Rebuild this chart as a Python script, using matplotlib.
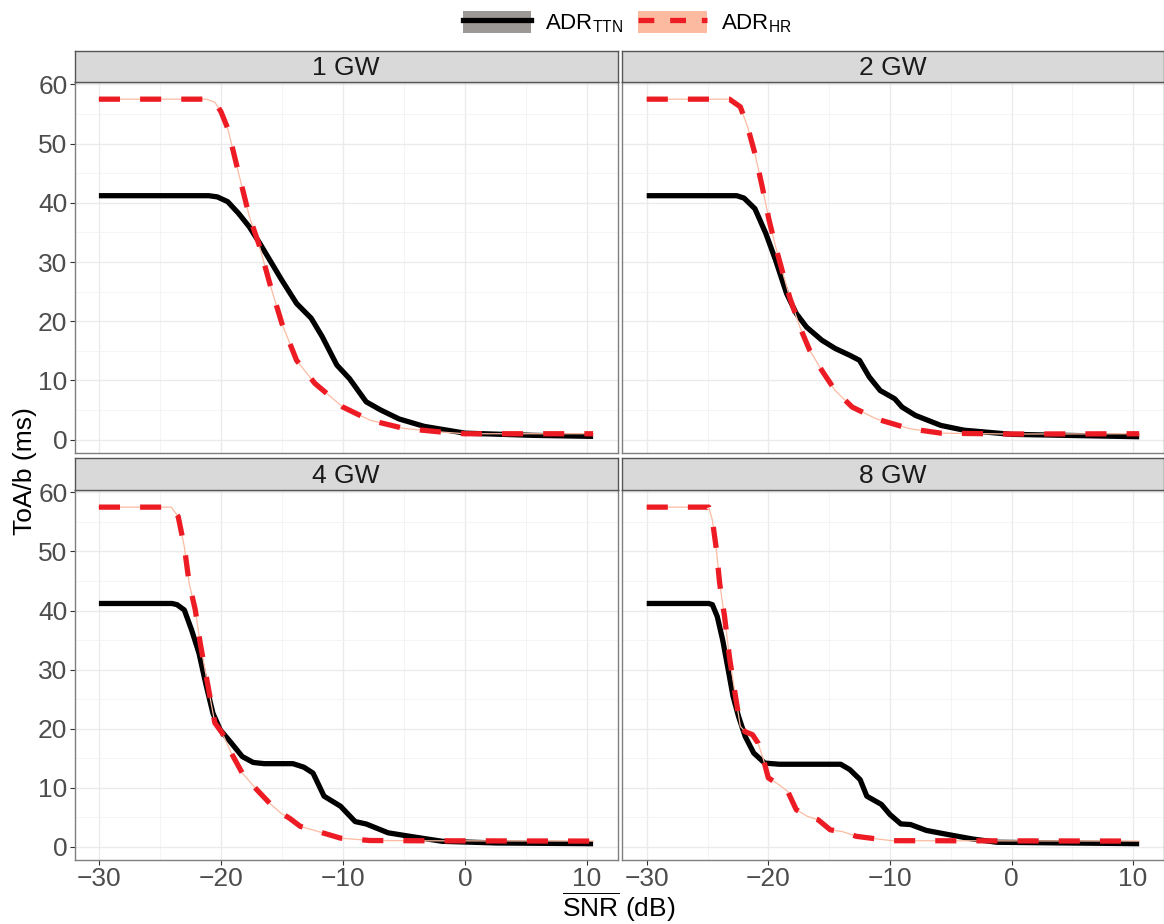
import numpy as np
import matplotlib
matplotlib.use('Agg')
import matplotlib.pyplot as plt
from matplotlib.lines import Line2D
from matplotlib.patches import Patch

plt.rcParams['font.family'] = ['Liberation Sans', 'DejaVu Sans']
plt.rcParams['mathtext.fontset'] = 'custom'
plt.rcParams['mathtext.rm'] = 'Liberation Sans'
plt.rcParams['mathtext.it'] = 'Liberation Sans:italic'

# values (SNR in dB, ToA/b in ms)
panels = ['1 GW', '2 GW', '4 GW', '8 GW']

snr_1gw_ttn = [-30, -21, -20.3, -19.45, -18.55, -17.66, -16.8, -15.9, -15, -13.8, -12.6, -11.7,
               -10.5, -9.46, -8.1, -6.9, -5.4, -3.35, 0, 5.6, 10.5]
toa_1gw_ttn = [41.2, 41.2, 41.0, 40.2, 38.2, 35.9, 33.1, 30.0, 26.9, 23.0, 20.5, 17.4,
               12.6, 10.3, 6.4, 5.0, 3.5, 2.25, 1.1, 0.73, 0.56]
snr_1gw_hr = [-30, -21.2, -20.5, -20, -19.45, -18.55, -17.66, -16.9, -16, -15, -13.8, -12.3,
              -10, -7.8, -5, -2, 0, 10.5]
toa_1gw_hr = [57.5, 57.5, 57.0, 55.4, 52.6, 45.0, 37.6, 33.1, 26.4, 19.6, 13.4, 9.5,
              5.5, 3.3, 1.9, 1.3, 1.0, 1.0]

snr_2gw_ttn = [-30, -22.6, -22.0, -21.1, -20.2, -19.4, -18.5, -17.7, -16.85, -15.6, -14.5, -13.3,
               -12.5, -11.7, -10.8, -9.6, -9.0, -7.9, -5.8, -3.9, 0, 10.5]
toa_2gw_ttn = [41.2, 41.2, 40.8, 39.0, 34.8, 30.3, 24.7, 21.3, 19.0, 16.8, 15.4, 14.25,
               13.4, 10.6, 8.3, 6.9, 5.5, 4.1, 2.4, 1.6, 0.9, 0.5]
snr_2gw_hr = [-30, -23.2, -22.3, -21.7, -21.1, -20.5, -19.94, -19.4, -18.8, -18.25, -17.4, -16.6,
              -15.6, -14.5, -13.1, -11.1, -8.4, -5.8, 0, 10.5]
toa_2gw_hr = [57.5, 57.5, 56.2, 52.8, 48.3, 42.7, 37.1, 32.6, 28.1, 24.1, 19.0, 15.1,
              11.7, 8.3, 5.5, 3.5, 1.86, 1.1, 0.95, 1.0]

snr_4gw_ttn = [-30, -24.0, -23.6, -23.0, -22.4, -21.8, -21.25, -20.65, -20.05, -19.15, -18.25,
               -17.35, -16.45, -14.1, -13.2, -12.45, -11.55, -10.2, -9.0, -8.1, -6.3, -4.5,
               -1.85, 2.6, 10.5]
toa_4gw_ttn = [41.2, 41.2, 41.0, 40.1, 36.7, 32.8, 27.7, 22.6, 19.8, 17.6, 15.3,
               14.3, 14.1, 14.1, 13.5, 12.5, 8.6, 6.9, 4.3, 3.9, 2.4, 1.8,
               0.96, 0.68, 0.56]
snr_4gw_hr = [-30, -24.07, -23.5, -23.0, -22.6, -22.1, -21.7, -21.25, -20.8, -20.5, -19.9,
              -19.15, -18.25, -17.06, -16.0, -15.1, -14.4, -13.5, -12.0, -10.2, -7.8, -3.35, 10.5]
toa_4gw_hr = [57.5, 57.5, 55.9, 50.8, 44.6, 40.1, 34.5, 29.4, 24.3, 21.0, 19.3,
              15.9, 12.5, 9.7, 7.4, 5.75, 4.9, 3.5, 2.6, 1.5, 1.1, 1.05, 1.0]

snr_8gw_ttn = [-30, -24.9, -24.6, -24.2, -23.75, -23.3, -22.9, -22.45, -21.9, -21.2, -20.3,
               -19.1, -14.05, -13.3, -12.45, -11.9, -10.7, -10.0, -9.1, -8.3, -7.0, -5.2,
               -3.2, -1.2, 10.5]
toa_8gw_ttn = [41.2, 41.2, 41.0, 39.0, 35.0, 30.0, 25.5, 22.1, 18.7, 15.9, 14.2,
               14.0, 14.0, 13.1, 11.4, 8.6, 7.2, 5.5, 3.9, 3.8, 2.8, 2.1,
               1.35, 0.8, 0.56]
snr_8gw_hr = [-30, -24.9, -24.6, -24.3, -24.0, -23.6, -23.2, -22.7, -22.3, -21.9, -21.3, -20.85,
              -20.4, -20.0, -19.1, -18.4, -17.7, -16.8, -15.9, -14.9, -13.9, -12.75, -11.6,
              -9.85, 10.5]
toa_8gw_hr = [57.5, 57.5, 55.3, 50.8, 44.6, 39.0, 32.2, 25.5, 20.4, 19.5, 19.0, 17.6,
              14.8, 11.7, 10.5, 9.4, 6.3, 5.2, 4.6, 2.9, 2.6, 1.8, 1.5,
              1.07, 1.0]

ttn = [(snr_1gw_ttn, toa_1gw_ttn), (snr_2gw_ttn, toa_2gw_ttn),
       (snr_4gw_ttn, toa_4gw_ttn), (snr_8gw_ttn, toa_8gw_ttn)]
hr = [(snr_1gw_hr, toa_1gw_hr), (snr_2gw_hr, toa_2gw_hr),
      (snr_4gw_hr, toa_4gw_hr), (snr_8gw_hr, toa_8gw_hr)]

red = '#ED1C24'
salmon = '#FCBBA1'
W, H = 1164, 924

fig = plt.figure(figsize=(W / 100, H / 100), dpi=100)

# panel boxes in pixels: (left, right) per column, (strip top, panel top, panel bottom) per row
lefts = [(74.5, 617.5), (622.4, 1163.5)]
rows = [(50.7, 82, 452.7), (458.3, 490, 860)]

for i, name in enumerate(panels):
    r, c = divmod(i, 2)
    x0, x1 = lefts[c]
    st, pt, pb = rows[r]
    ax = fig.add_axes([x0 / W, 1 - pb / H, (x1 - x0) / W, (pb - pt) / H])
    sax = fig.add_axes([x0 / W, 1 - pt / H, (x1 - x0) / W, (pt - st) / H])

    sx, sy = ttn[i]
    ax.plot(sx, sy, color='black', lw=3.8, solid_joinstyle='round', solid_capstyle='butt', zorder=3)
    hx, hy = hr[i]
    ax.plot(hx, hy, color=salmon, lw=0.9, zorder=4)
    ax.plot(hx, hy, color=red, lw=3.8, ls=(0, (4.0, 3.8)), zorder=5)

    ax.set_xlim(-32.0, 12.5)
    ax.set_ylim(-2.2, 60.4)
    ax.set_xticks([-30, -20, -10, 0, 10])
    ax.set_xticks([-25, -15, -5, 5], minor=True)
    ax.set_yticks([0, 10, 20, 30, 40, 50, 60])
    ax.set_yticks([5, 15, 25, 35, 45, 55], minor=True)
    ax.grid(which='major', color='#EBEBEB', lw=1.0)
    ax.grid(which='minor', color='#F2F2F2', lw=0.6)
    ax.set_axisbelow(True)
    for s in ax.spines.values():
        s.set_color('#7F7F7F')
        s.set_linewidth(1.0)
    ax.tick_params(which='minor', length=0)
    ax.tick_params(which='major', length=3.6, width=0.8, color='#333333',
                   labelsize=19, labelcolor='#4D4D4D', pad=1.5)
    if c == 1:
        ax.tick_params(axis='y', length=0, labelleft=False)
    if r == 0:
        ax.tick_params(axis='x', length=0, labelbottom=False)

    sax.set_facecolor('#D9D9D9')
    sax.set_xticks([])
    sax.set_yticks([])
    for s in sax.spines.values():
        s.set_color('#555555')
        s.set_linewidth(1.0)
    sax.text(0.5, 0.45, name, ha='center', va='center', fontsize=19,
             color='#1A1A1A', transform=sax.transAxes)

fig.text(0.5 * (74.5 + 1163.5) / W, 1 - 907 / H, r'$\overline{\mathrm{SNR}}$ (dB)',
         ha='center', va='center', fontsize=19)
fig.text(25 / W, 1 - 471 / H, 'ToA/b (ms)', rotation=90, ha='center', va='center', fontsize=19)

h1 = (Patch(facecolor='#9B9896', edgecolor='none'), Line2D([], [], color='black', lw=3.8))
h2 = (Patch(facecolor=salmon, edgecolor='none'),
      Line2D([], [], color=red, lw=3.8, ls=(0, (3.0, 3.0))))
fig.legend([h1, h2], [r'ADR$_{\mathrm{TTN}}$', r'ADR$_{\mathrm{HR}}$'],
           loc='center', bbox_to_anchor=(627 / W, 1 - 23 / H), ncol=2, frameon=False,
           fontsize=16, handlelength=3.1, handleheight=1.15, handletextpad=0.6,
           columnspacing=0.7, borderpad=0.1)

fig.savefig('out.png', dpi=100)
